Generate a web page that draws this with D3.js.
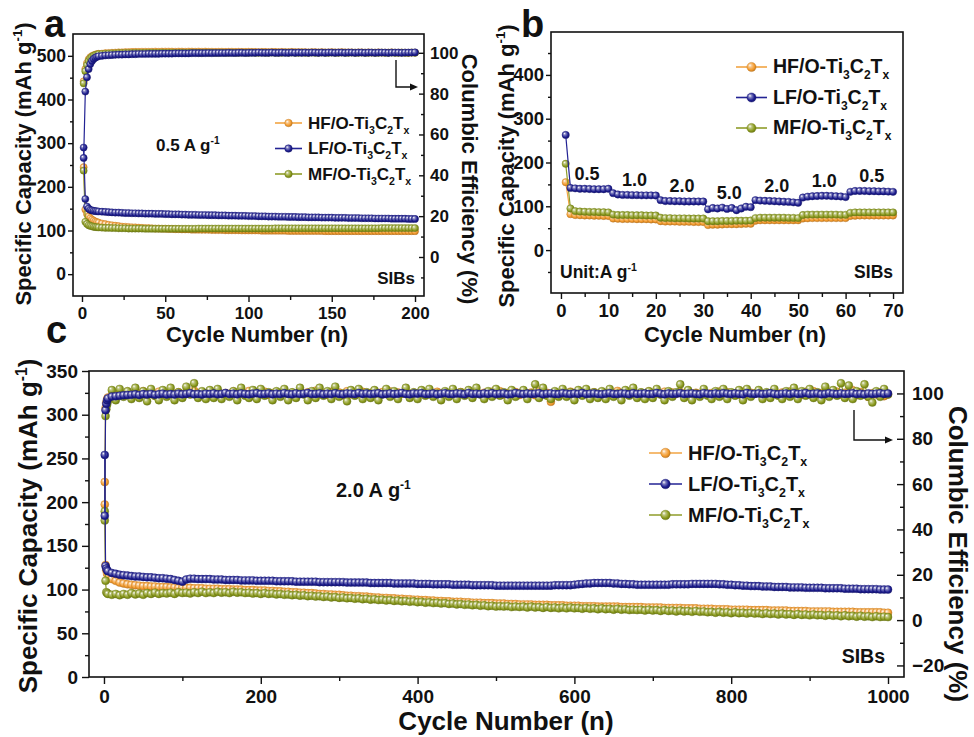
<!DOCTYPE html>
<html><head><meta charset="utf-8">
<script src="https://cdn.jsdelivr.net/npm/d3@7"></script>
<style>
body{margin:0;background:#fff;}
svg{display:block;}
</style></head><body>
<svg id="fig" width="974" height="737"></svg>
<script>
// ---------- series labels ----------
const seriesPrefix = ["HF", "LF", "MF"];

// ---------- panel a: 0.5 A/g cycling, 200 cycles ----------
const cyclesA = d3.range(1, 11).concat(d3.range(12, 201, 2));
const capA_HF = [245,148,138,132,128,125,122.5,120.5,119,118,
 116,114.5,113,112,111,110,109,108.5,108,107.5,
 107,106.5,106,105.5,105.5,105,104.5,104.5,104,104,
 103.5,103.5,103,103,102.5,102.5,102.5,102,102,102,
 101.5,101.5,101.5,101,101,101,101,100.5,100.5,100.5,
 100.5,100.5,100,100,100,100,100,100,99.5,99.5,
 99.5,99.5,99.5,99.5,99.5,99.5,99,99,99,99,
 99,99,99,99,99,99,99,98.5,98.5,98.5,
 98.5,98.5,98.5,98.5,98.5,98.5,98.5,98.5,98.5,98.5,
 98.5,98.5,98.5,98.5,98.5,98.5,98.5,98.5,98.5,98.5,
 98.5,98.5,98.5,98.5,98.5];
const capA_LF = [290,172,155,150,147,146,145,144.5,144,143.5,
 143,142.5,142,141.5,141,141,140.5,140,140,139.5,
 139.5,139,139,138.5,138.5,138.5,138,138,138,137.5,
 137.5,137,137,137,136.5,136.5,136,136,136,135.5,
 135.5,135.5,135,135,135,134.5,134.5,134.5,134,134,
 134,133.5,133.5,133.5,133,133,133,132.5,132.5,132.5,
 132,132,132,131.5,131.5,131.5,131,131,131,130.5,
 130.5,130.5,130,130,130,130,129.5,129.5,129.5,129.5,
 129,129,129,129,128.5,128.5,128.5,128.5,128,128,
 128,128,127.5,127.5,127.5,127.5,127.5,127,127,127,
 127,127,126.5,126.5,126.5];
const capA_MF = [237,120,115,112,110.5,109.5,108.5,108,107.5,107,
 106.5,106,106,105.5,105.5,105,105,105,104.5,104.5,
 104.5,104.5,104.5,104,104,104,104,104,104,104,
 104,104,104,104,104,104,104,104,104,104.5,
 104.5,104.5,104.5,104.5,104.5,104.5,104.5,104.5,104.5,104.5,
 104.5,104.5,104.5,104.5,104.5,104.5,104.5,104.5,104.5,104.5,
 104.5,104.5,105,105,105,105,105,105,105,105,
 105,105,105,105,105,105,105,105,105,105,
 105,105,105,105,105,105,105,105,105,105,
 105,105,105,105,105.5,105.5,105.5,105.5,105.5,105.5,
 105.5,105.5,105.5,105.5,105.5];
const ceA_HF = [86,92,95,96.8,97.8,98.4,98.8,99.1,99.3,99.5,
 99.6,99.8,99.9,100,100.1,100.2,100.2,100.3,100.3,100.4,
 100.4,100.4,100.5,100.5,100.5,100.5,100.6,100.5,100.6,100.6,
 100.6,100.6,100.5,100.6,100.6,100.5,100.6,100.6,100.5,100.6,
 100.5,100.6,100.5,100.5,100.4,100.5,100.5,100.4,100.5,100.5,
 100.4,100.5,100.4,100.4,100.5,100.4,100.4,100.3,100.4,100.4,
 100.3,100.4,100.4,100.3,100.4,100.3,100.3,100.4,100.3,100.3,
 100.3,100.3,100.2,100.3,100.3,100.2,100.3,100.2,100.2,100.3,
 100.2,100.2,100.3,100.2,100.2,100.2,100.1,100.2,100.2,100.1,
 100.2,100.1,100.1,100.2,100.1,100.1,100.1,100.2,100.1,100.1,
 100.1,100.1,100,100.1,100.1];
const ceA_LF = [48.5,81,88,92,94.5,96,97,97.6,98,98.3,
 98.5,98.7,98.8,98.9,99,99.1,99.1,99.2,99.2,99.3,
 99.3,99.4,99.4,99.4,99.5,99.5,99.5,99.5,99.6,99.6,
 99.6,99.6,99.7,99.7,99.7,99.7,99.7,99.8,99.8,99.8,
 99.8,99.8,99.9,99.8,99.9,99.9,99.9,99.9,100,99.9,
 99.9,100,100,99.9,100,100,100,100.1,100,100,
 100,100.1,100,100,100.1,100,100,100.1,100,100.1,
 100,100.1,100,100.1,100.1,100,100.1,100,100.1,100.1,
 100,100.1,100.1,100,100.1,100.1,100,100.1,100.1,100,
 100.1,100.1,100,100.1,100.1,100.1,100,100.1,100.1,100.1,
 100,100.1,100.1,100.1,100.2];
const ceA_MF = [85,91,94,96,97.3,98,98.5,98.9,99.1,99.3,
 99.4,99.5,99.6,99.7,99.7,99.8,99.8,99.9,99.9,99.9,
 100,99.9,100,100,100,100.1,100,100,100.1,100,
 100,100.1,100,100,100.1,100,100,100.1,100.1,100,
 100,100.1,100,100.1,100,100,100.1,100,100,100.1,
 100,100,100.1,100,100,100.1,100,100,100.1,100,
 100,100.1,100,100,100,100.1,100,100.1,100,100,
 100.1,100,100,100.1,100,100,100.1,100,100,100.1,
 100,100,100.1,100,100,100.1,100,100,100.1,100,
 100,100.1,100,100,100.1,100,100,100.1,100,100,
 100.1,100,100,100.1,100];

// ---------- panel b: rate capability, 70 cycles ----------
const cyclesB = d3.range(1, 71);
const rateLabels = ["0.5", "1.0", "2.0", "5.0", "2.0", "1.0", "0.5"];
const capB_HF = [155,82,80,79.5,79,79,78.5,78.5,78,78,
 72,71.5,71,71,71,70.5,70.5,70.5,70,70,
 66,65,65,65,64.5,64.5,64.5,64,64,64,
 57,58,58,58.5,59,59,59,59.5,60,60,
 67,68,68,68,68,68,68,68,68,68,
 72,72.5,73,73,73,73,73,73,73,73,
 78,78.5,79,79,79,79,79,79,79,79];
const capB_LF = [263,142,141,140,140,139.5,139,139,139,140,
 130,127,126,126,125.5,125.5,125,125,125,124.5,
 114,112,112,111.5,111.5,111,111,111,111,111,
 93,96,95,97,94,96,91,95,99,98,
 114,113,112.5,112,111.5,111,110.5,110,109,108,
 120,122,123,123.5,124,124,123.5,123,122.5,121,
 133,135,135,135,134.5,134.5,134,134,133.5,133];
const capB_MF = [197,95,89,88,87.5,87,87,86.5,86.5,86,
 81,80,80,80,79.5,79.5,79.5,79,79,79,
 74,73,73,72.5,72.5,72.5,72,72,72,72,
 66,66,66,66.5,66.5,66.5,67,67,67,67.5,
 73,74,74,74,74,74,74,73.5,73.5,73,
 80,81,81,81,81,81,81,81,80.5,80.5,
 85,86,86,86,86,86,86,86,86,86];

// ---------- panel c: 2.0 A/g long cycling, 1000 cycles ----------
const cyclesC = d3.range(1, 6).concat(d3.range(10, 1001, 5));
const capC_HF = [223,128,122,118,116,112,110,108,107,106,
 105.5,105,104.5,104,104,103.5,103.5,103,103,103,
 102.5,102.5,102,102,102,102,101.5,101.5,101.5,101,
 101,101,101,100.5,100.5,100.5,100,100,100,99.5,
 99.5,99.5,99,99,99,98.5,98.5,98,98,97.5,
 97.5,97,97,96.5,96.5,96,96,95.5,95,95,
 94.5,94.5,94,94,93.5,93,93,92.5,92.5,92,
 92,91.5,91,91,90.5,90.5,90,90,89.5,89.5,
 89,89,88.5,88.5,88,88,87.5,87.5,87,87,
 86.5,86.5,86,86,86,85.5,85.5,85,85,85,
 84.5,84.5,84.5,84,84,84,83.5,83.5,83.5,83,
 83,83,83,82.5,82.5,82.5,82.5,82,82,82,
 82,81.5,81.5,81.5,81.5,81,81,81,81,80.5,
 80.5,80.5,80.5,80.5,80.5,80,80,80,80,80,
 80,79.5,79.5,79.5,79.5,79.5,79,79,79,79,
 79,78.5,78.5,78.5,78.5,78,78,78,78,77.5,
 77.5,77.5,77.5,77,77,77,77,77,76.5,76.5,
 76.5,76.5,76.5,76,76,76,76,76,75.5,75.5,
 75.5,75.5,75.5,75,75,75,75,75,75,74.5,
 74.5,74.5,74.5,74.5,74.5,74,74,74,74,74,
 74,74,73.5,73.5];
const capC_LF = [254,127,124,122,121,119,118,117,116.5,116,
 115.5,115,115,114.5,114,114,113.5,113,113,112.5,
 112,111,110,109,111.5,112.5,112.5,112,112,112,
 112,111.5,111.5,111.5,111,111,111,111,110.5,110.5,
 110.5,110.5,110,110,110,110,110,109.5,109.5,109.5,
 109.5,109.5,109,109,109,109,109,109,108.5,108.5,
 108.5,108.5,108.5,108.5,108.5,108,108,108,108,108,
 108,107.5,107.5,107.5,107.5,107.5,107.5,107,107,107,
 107,107,107,106.5,106.5,106.5,106.5,106,106,106,
 106,106,105.5,105.5,105.5,105.5,105.5,105,105,105,
 105,105,105,104.5,104.5,104.5,104.5,104.5,104.5,104.5,
 104.5,104.5,104.5,104.5,104.5,104.5,104.5,104.5,105,105,
 105,105,105,105.5,106,106.5,107,107,107.5,107.5,
 107.5,107.5,107.5,107,107,106.5,106.5,106,106,105.5,
 105.5,105.5,105.5,105.5,105.5,105.5,105.5,105.5,106,106,
 106,106,106,106.5,106.5,106.5,106.5,106.5,106.5,106.5,
 106,106,105.5,105.5,105,105,104.5,104.5,104,104,
 104,103.5,103.5,103.5,103,103,103,103,102.5,102.5,
 102.5,102.5,102,102,102,102,102,101.5,101.5,101.5,
 101.5,101.5,101,101,101,101,100.5,100.5,100.5,100.5,
 100.5,100,100,100];
const capC_MF = [179,110,97,96,95,94,95,93.5,95,94,
 96,94.5,95.5,94,96,95,96.5,95,96,95.5,
 96.5,95,97,96,96.5,95.5,97,96,97.5,96,
 97,96,97.5,96.5,97,96,97.5,96.5,97,96,
 96.5,95.5,96,95,96,95,95.5,94.5,95,94,
 94.5,93.5,94,93,93.5,92.5,93,92,92.5,91.5,
 92,91,91.5,90.5,91,90,90.5,89.5,90,89,
 89.5,88.5,89,88,88.5,87.5,88,87,87.5,86.5,
 87,86,86.5,85.5,86,85,85.5,84.5,85,84,
 84.5,83.5,84,83,83.5,82.5,83,82,82.5,81.5,
 82,81,81.5,80.5,81,80.5,81,80,80.5,80,
 80.5,79.5,80.5,79.5,80,79,80,79,79.5,78.5,
 79.5,78.5,79.5,78.5,79,78,79,78,78.5,77.5,
 78.5,77.5,78,77,78,77,77.5,76.5,77,76.5,
 77,76,77,76,76.5,75.5,76.5,75.5,76,75,
 76,75,75.5,74.5,75.5,74.5,75,74,74.5,73.5,
 74.5,73.5,74,73,74,73,73.5,72.5,73.5,72.5,
 73,72,73,72,72.5,71.5,72.5,71.5,72,71,
 72,71,71.5,70.5,71.5,70.5,71,70,71,70,
 70.5,69.5,70.5,69.5,70,69,70,69,69.5,68.5,
 69.5,68.5,69,68.5];
const ceC_HF = [51,93.5,96,97.5,98.2,99,99.5,100.4,99.2,100.8,
 99.3,100.6,99.8,101,99.5,100.3,99,100.8,99.6,100.2,
 100.9,99.4,100.5,99.1,100.7,99.8,101.2,99.5,100.4,99.2,
 100.6,99.7,101,99.3,100.2,99.6,100.9,99.4,100.5,99.8,
 101.1,99.2,100.4,99.7,100.8,99.3,100.1,100.6,99.5,101,
 99.6,100.3,99.1,100.9,99.8,100.5,99.4,101.2,99.7,100.2,
 99.3,100.8,99.9,100.4,99.2,101,99.6,100.3,99.8,100.7,
 99.5,100.2,101.1,99.4,100.6,99.7,100.9,99.3,100.4,99.9,
 100.8,99.6,100.3,99.2,101,99.8,100.5,99.4,100.7,99.5,
 100.2,99.9,101.1,99.3,100.6,99.7,100.4,99.1,100.9,99.8,
 100.3,99.5,100.8,99.7,101,99.4,100.2,99.9,100.6,99.3,
 100.7,99.6,100.4,99.2,100.9,99.8,100.3,96.3,100.5,99.7,
 100.1,99.4,100.8,99.9,100.3,99.6,101,99.3,100.5,99.8,
 100.6,99.5,100.2,99.7,101.1,99.4,100.4,99.9,100.7,99.2,
 100.3,99.8,100.9,99.5,100.2,99.6,100.8,99.3,100.4,99.9,
 100.6,99.4,101,99.7,100.3,99.5,100.8,99.8,100.2,99.6,
 100.9,99.3,100.5,99.8,100.1,99.5,100.7,99.4,100.3,99.9,
 100.6,99.6,100.2,99.2,100.8,99.7,100.4,99.5,100.9,99.8,
 100.3,99.4,100.7,99.6,101,99.9,100.2,99.3,100.5,99.7,
 100.8,99.5,100.3,99.8,101.4,99.2,100.6,99.7,98.4,100.1,
 99.5,100.4,98.8,99.6];
const ceC_LF = [46,92.6,95.5,97,97.8,98.6,98.8,99,99.2,99.3,
 99.4,99.6,99.3,99.7,99.5,99.8,99.4,99.6,99.9,99.5,
 99.7,99.5,99.9,99.6,99.8,100.1,99.6,99.8,99.5,99.9,
 99.7,100,99.6,99.8,100.2,99.7,99.9,99.6,100,99.8,
 99.6,99.9,100.1,99.7,99.8,100,99.6,99.9,99.7,100.1,
 99.8,99.6,100,99.7,99.9,100.2,99.7,99.8,100,99.6,
 99.9,99.7,100.1,99.8,99.6,100,99.9,99.7,100.2,99.8,
 100,99.7,99.9,100.1,99.6,99.8,100,99.7,99.9,100.2,
 99.8,99.6,100,99.9,100.1,99.7,99.8,100,99.6,99.9,
 100.1,99.8,99.7,100,99.9,99.6,100.2,99.8,99.9,99.7,
 100,99.8,100.1,99.7,99.9,100,99.6,99.8,100.2,99.9,
 99.7,100,99.8,99.9,100.1,99.6,99.9,100,99.8,99.7,
 100.1,99.9,99.7,100,99.8,100.2,99.7,99.9,100,99.8,
 99.6,99.9,100.1,99.8,99.7,100,99.9,99.6,100.1,99.8,
 99.9,100,99.7,99.8,100.2,99.9,99.6,100,99.8,99.9,
 100.1,99.7,99.9,100,99.8,99.6,100.1,99.9,99.7,100,
 99.8,100.1,99.9,99.7,100,99.8,99.6,100.2,99.9,99.8,
 100,99.7,99.9,100.1,99.8,99.6,99.9,100,99.7,100.1,
 99.8,99.9,100.2,99.7,99.9,100,99.6,99.8,100.1,99.9,
 99.7,100,99.8,99.9,100.1,99.7,99.9,99.6,100,99.8,
 99.9,100.1,99.8,100];
const ceC_MF = [48,90,93,95,96.5,101.5,97,102,98.5,101,
 97.5,102.5,98,101,96.5,102,99,97,101.5,98.5,
 102.5,97,100.5,98,103,99.5,104.5,98,101,97.5,
 101.5,98,102,97.5,100,98.5,101,97,102.5,99,
 98,101.5,97.5,102,99,100.5,97,101,98.5,102,
 97,100.5,98,102.5,99.5,97,101,98,102.5,99,
 101,97.5,103,98.5,100,96.5,101.5,99,102,97.5,
 100.5,98,101.5,97,99.5,102,98.5,101,97.5,100,
 102.5,98,100.5,97.5,101.5,99,102,98.5,100,97,
 101,98.5,102,97.5,100.5,99,101.5,98,102.5,99.5,
 97.5,101,98.5,102,99,100.5,97,101.5,98.5,100,
 101.5,97.5,100,104,98,102.5,99,97.5,101,98.5,
 102,98.5,100.5,97,101.5,99,102,97.5,100.5,98,
 101,97.5,102,98.5,100,97,101.5,99,102.5,98,
 100.5,97.5,101,98,102,99.5,97,101,98.5,100.5,
 104,98,101.5,97,100,98.5,102,99,97.5,101,
 98.5,102,97.5,100.5,99,101.5,97,102,98.5,100,
 101.5,97.5,100.5,98,102,99,97.5,101,98.5,102.5,
 97.5,101,99,102,98,100.5,97,103,98.5,101.5,
 99,104.5,98,103.5,97.5,101,99,104,98.5,96,
 101,98.5,102,99.5];

// ---------- styling ----------
const FONT = '"Liberation Sans", Arial, Helvetica, sans-serif';
const seriesColors = ["#f39a2c", "#1c1c8e", "#8a9a1c"];
const lineColors = ["#f2a443", "#232394", "#8f9d2a"];
const drawOrder = [0, 2, 1];

const svg = d3.select("#fig")
  .attr("font-family", FONT).attr("font-weight", "bold");

// shaded ball markers
const defs = svg.append("defs");
seriesColors.forEach((c, i) => {
  const g = defs.append("radialGradient").attr("id", "ball" + i)
    .attr("cx", "45%").attr("cy", "45%").attr("r", "60%")
    .attr("fx", "32%").attr("fy", "30%");
  g.append("stop").attr("offset", "0%").attr("stop-color", "#ffffff");
  g.append("stop").attr("offset", "28%").attr("stop-color", d3.interpolateRgb(c, "#ffffff")(0.45));
  g.append("stop").attr("offset", "70%").attr("stop-color", c);
  g.append("stop").attr("offset", "100%").attr("stop-color", d3.color(c).darker(0.9));
});

function addAxis(parent, orient, scale, major, minor, o) {
  const make = {left: d3.axisLeft, right: d3.axisRight, bottom: d3.axisBottom}[orient];
  const gMin = parent.append("g").attr("transform", o.t)
    .call(make(scale).tickValues(minor).tickSize(o.minor).tickFormat(""));
  const gMaj = parent.append("g").attr("transform", o.t)
    .call(make(scale).tickValues(major).tickSize(o.major).tickPadding(o.pad).tickFormat(d3.format("d")));
  [gMin, gMaj].forEach(g => {
    g.select(".domain").remove();
    g.selectAll("line").attr("stroke", "#111").attr("stroke-width", 1.4);
    g.attr("font-family", FONT).attr("font-weight", "bold").attr("font-size", o.fs);
  });
  gMaj.selectAll("text").attr("fill", "#111");
}

function drawSeries(g, xs, ys, sx, sy, idx, r) {
  const pts = ys.map((v, i) => [xs[i], v]).filter(d => d[0] != null && d[1] != null);
  g.append("path")
    .attr("d", d3.line().x(d => sx(d[0])).y(d => sy(d[1]))(pts))
    .attr("fill", "none").attr("stroke", lineColors[idx]).attr("stroke-width", 1.2);
  g.append("g").selectAll("circle").data(pts).join("circle")
    .attr("cx", d => sx(d[0])).attr("cy", d => sy(d[1])).attr("r", r)
    .attr("fill", `url(#ball${idx})`)
    .attr("stroke", d3.color(seriesColors[idx]).darker(0.6)).attr("stroke-width", 0.4);
}

function formula(t, prefix, fs) {
  const s = fs * 0.3, sub = fs * 0.62;
  t.append("tspan").text(prefix + "/O-Ti");
  t.append("tspan").attr("dy", s).attr("font-size", sub).text("3");
  t.append("tspan").attr("dy", -s).text("C");
  t.append("tspan").attr("dy", s).attr("font-size", sub).text("2");
  t.append("tspan").attr("dy", -s).text("T");
  t.append("tspan").attr("dy", s).attr("font-size", sub).text("x");
}

function withInverse(t, before, after, fs) {
  t.append("tspan").text(before);
  t.append("tspan").attr("dy", -fs * 0.4).attr("font-size", fs * 0.6).text("-1");
  if (after) t.append("tspan").attr("dy", fs * 0.4).text(after);
}

function legend(g, x0, x1, top, step, fs, r) {
  seriesPrefix.forEach((p, i) => {
    const yy = top + i * step;
    g.append("line").attr("x1", x0).attr("x2", x1).attr("y1", yy).attr("y2", yy)
      .attr("stroke", lineColors[i]).attr("stroke-width", 1.6);
    g.append("circle").attr("cx", (x0 + x1) / 2).attr("cy", yy).attr("r", r)
      .attr("fill", `url(#ball${i})`)
      .attr("stroke", d3.color(seriesColors[i]).darker(0.6)).attr("stroke-width", 0.4);
    const t = g.append("text").attr("x", x1 + 6).attr("y", yy + fs * 0.33)
      .attr("font-size", fs).attr("fill", "#111");
    formula(t, p, fs);
  });
}

function vTitle(g, cx, cy, fs, rot, build) {
  const t = g.append("text").attr("transform", `translate(${cx},${cy}) rotate(${rot})`)
    .attr("text-anchor", "middle").attr("y", fs * 0.36).attr("font-size", fs).attr("fill", "#111");
  build(t);
}

function frame(g, b) {
  g.append("rect").attr("x", b.x0).attr("y", b.y0).attr("width", b.x1 - b.x0).attr("height", b.y1 - b.y0)
    .attr("fill", "none").attr("stroke", "#111").attr("stroke-width", 1.6);
}

function arrow(g, x, yTop, yBot, tip) {
  g.append("path").attr("d", `M${x},${yTop}V${yBot}H${tip - 6}`)
    .attr("fill", "none").attr("stroke", "#111").attr("stroke-width", 1.4);
  g.append("path").attr("d", `M${tip},${yBot}L${tip - 8},${yBot - 3.5}L${tip - 8},${yBot + 3.5}Z`).attr("fill", "#111");
}

function plainText(g, x, y, fs, anchor, str) {
  return g.append("text").attr("x", x).attr("y", y).attr("font-size", fs)
    .attr("text-anchor", anchor).attr("fill", "#111").text(str);
}

// ================= panel a =================
{
  const b = {x0: 73, x1: 424, y0: 34, y1: 296};
  const g = svg.append("g");
  const x = d3.scaleLinear([-5.4, 205.4], [b.x0, b.x1]);
  const y = d3.scaleLinear([-50, 550], [b.y1, b.y0]);
  const y2 = d3.scaleLinear([-19.1, 109.2], [b.y1, b.y0]);
  addAxis(g, "bottom", x, d3.range(0, 201, 50), [25, 75, 125, 175], {t: `translate(0,${b.y1})`, major: 6, minor: 4, pad: 5, fs: 17});
  addAxis(g, "left", y, d3.range(0, 501, 100), [50, 150, 250, 350, 450], {t: `translate(${b.x0},0)`, major: 5, minor: 3, pad: 2, fs: 17.5});
  addAxis(g, "right", y2, d3.range(0, 101, 20), [-10, 10, 30, 50, 70, 90], {t: `translate(${b.x1},0)`, major: -5, minor: -3, pad: 6, fs: 17});
  const caps = [capA_HF, capA_LF, capA_MF], ces = [ceA_HF, ceA_LF, ceA_MF];
  drawOrder.forEach(i => {
    drawSeries(g, cyclesA, caps[i], x, y, i, 3.6);
    drawSeries(g, cyclesA, ces[i], x, y2, i, 3.6);
  });
  frame(g, b);
  legend(g, 275, 302, 123, 25.5, 17, 3.8);
  withInverse(plainText(g, 156, 151, 17, "start", null), "0.5 A g", null, 17);
  plainText(g, 415, 284, 17, "end", "SIBs");
  arrow(g, 396, 60, 87, 418);
  vTitle(g, 23, 164, 22, -90, t => withInverse(t, "Specific Capacity (mAh g", ")", 22));
  vTitle(g, 470, 179, 22, 90, t => t.text("Columbic Efficiency (%)"));
  plainText(g, 257, 342, 22, "middle", "Cycle Number (n)");
  plainText(g, 44, 37, 38, "start", "a");
}

// ================= panel b =================
{
  const b = {x0: 551, x1: 903, y0: 32, y1: 293};
  const g = svg.append("g");
  const x = d3.scaleLinear([-2.1, 72.1], [b.x0, b.x1]);
  const y = d3.scaleLinear([-98, 498], [b.y1, b.y0]);
  addAxis(g, "bottom", x, d3.range(0, 71, 10), d3.range(5, 70, 10), {t: `translate(0,${b.y1})`, major: 6, minor: 4, pad: 5, fs: 18.5});
  addAxis(g, "left", y, d3.range(0, 401, 100), d3.range(-50, 451, 100), {t: `translate(${b.x0},0)`, major: 5, minor: 3, pad: 2, fs: 18.5});
  const caps = [capB_HF, capB_LF, capB_MF];
  drawOrder.forEach(i => drawSeries(g, cyclesB, caps[i], x, y, i, 3.7));
  frame(g, b);
  // current-density labels above each 10-cycle step
  rateLabels.forEach((lab, k) => {
    const seg = capB_LF.slice(k * 10, k * 10 + 10);
    const yy = y(d3.median(seg)) - 9;
    plainText(g, x(k * 10 + 5.5), yy, 18, "middle", lab);
  });
  legend(g, 736, 767, 67, 30.5, 19.5, 4.6);
  withInverse(plainText(g, 560, 278, 17.5, "start", null), "Unit:A g", null, 17.5);
  plainText(g, 893, 278, 17.5, "end", "SIBs");
  vTitle(g, 506, 166, 22, -90, t => withInverse(t, "Specific Capacity (mAh g", ")", 22));
  plainText(g, 735, 342, 22, "middle", "Cycle Number (n)");
  plainText(g, 521, 37, 38, "start", "b");
}

// ================= panel c =================
{
  const b = {x0: 89, x1: 904, y0: 371, y1: 677};
  const g = svg.append("g");
  const x = d3.scaleLinear([-19.1, 1020.4], [b.x0, b.x1]);
  const y = d3.scaleLinear([0, 350], [b.y1, b.y0]);
  const y2 = d3.scaleLinear([-25.1, 109.9], [b.y1, b.y0]);
  addAxis(g, "bottom", x, d3.range(0, 1001, 200), d3.range(100, 1000, 200), {t: `translate(0,${b.y1})`, major: 7, minor: 4, pad: 6, fs: 19});
  addAxis(g, "left", y, d3.range(0, 351, 50), d3.range(25, 350, 50), {t: `translate(${b.x0},0)`, major: 7, minor: 4, pad: 4, fs: 19});
  addAxis(g, "right", y2, d3.range(-20, 101, 20), d3.range(-10, 100, 20), {t: `translate(${b.x1},0)`, major: -7, minor: -4, pad: 8, fs: 19});
  const caps = [capC_HF, capC_LF, capC_MF], ces = [ceC_HF, ceC_LF, ceC_MF];
  drawOrder.forEach(i => {
    drawSeries(g, cyclesC, caps[i], x, y, i, 4);
    drawSeries(g, cyclesC, ces[i], x, y2, i, 4);
  });
  frame(g, b);
  legend(g, 649, 682, 453, 31, 20, 4.8);
  withInverse(plainText(g, 336, 497, 20, "start", null), "2.0 A g", null, 20);
  plainText(g, 885, 663, 19.5, "end", "SIBs");
  arrow(g, 854, 410, 440, 893);
  vTitle(g, 28, 526, 26, -90, t => withInverse(t, "Specific Capacity (mAh g", ")", 26));
  vTitle(g, 958, 554, 26, 90, t => t.text("Columbic Efficiency (%)"));
  plainText(g, 506, 730, 26, "middle", "Cycle Number (n)");
  plainText(g, 46, 343, 38, "start", "c");
}
</script>
</body></html>
